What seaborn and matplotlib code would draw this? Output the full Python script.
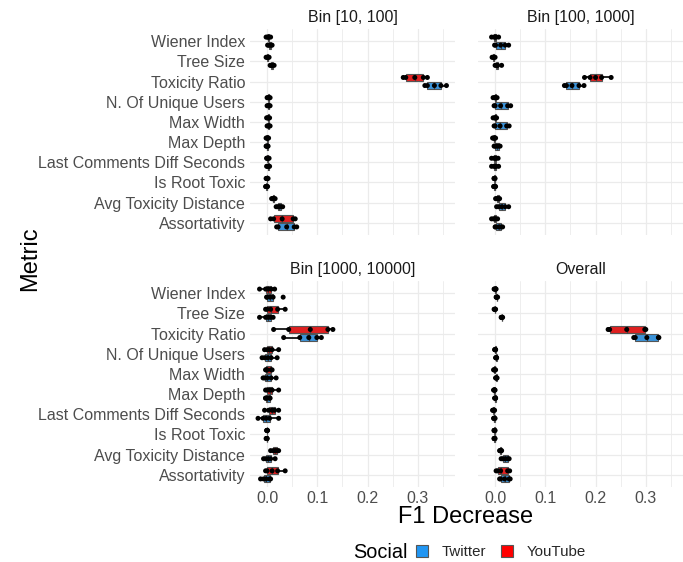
import numpy as np
import pandas as pd
import matplotlib
matplotlib.use("Agg")
import matplotlib.pyplot as plt
import seaborn as sns
from matplotlib.patches import Patch
from matplotlib.ticker import MultipleLocator

sns.set_theme(style="white")
plt.rcParams['font.family'] = ['Liberation Sans', 'DejaVu Sans']

METRICS = ['Wiener Index', 'Tree Size', 'Toxicity Ratio', 'N. Of Unique Users',
           'Max Width', 'Max Depth', 'Last Comments Diff Seconds', 'Is Root Toxic',
           'Avg Toxicity Distance', 'Assortativity']
SOCIALS = ['YouTube', 'Twitter']
LEGEND_ORDER = ['Twitter', 'YouTube']
FACETS = ['Bin [10, 100]', 'Bin [100, 1000]', 'Bin [1000, 10000]', 'Overall']
XTICKS = [0.0, 0.1, 0.2, 0.3]
XTICK_LABELS = ['0.0', '0.1', '0.2', '0.3']
COLORS = {'Twitter': '#2196F3', 'YouTube': '#FF0000'}

# values per metric (rows follow METRICS order)
BIN10_YOUTUBE = [
    [-0.002, 0.001, 0.002, 0.004, 0.007],
    [-0.002, 0.000, 0.001, 0.002, 0.004],
    [0.271, 0.276, 0.294, 0.311, 0.319],
    [0.000, 0.002, 0.003, 0.004, 0.006],
    [-0.001, 0.001, 0.002, 0.003, 0.005],
    [-0.002, 0.000, 0.000, 0.001, 0.003],
    [-0.001, 0.000, 0.001, 0.002, 0.004],
    [-0.002, -0.001, 0.000, 0.000, 0.002],
    [0.009, 0.011, 0.012, 0.014, 0.016],
    [0.007, 0.013, 0.030, 0.052, 0.056],
]
BIN10_TWITTER = [
    [0.001, 0.003, 0.005, 0.008, 0.010],
    [0.006, 0.008, 0.010, 0.011, 0.014],
    [0.314, 0.319, 0.333, 0.346, 0.357],
    [0.000, 0.002, 0.003, 0.004, 0.006],
    [0.000, 0.002, 0.003, 0.004, 0.006],
    [-0.002, -0.001, 0.000, 0.001, 0.002],
    [-0.001, 0.001, 0.002, 0.003, 0.005],
    [-0.003, -0.002, -0.001, 0.000, 0.001],
    [0.018, 0.021, 0.024, 0.027, 0.031],
    [0.019, 0.022, 0.039, 0.054, 0.059],
]
BIN100_YOUTUBE = [
    [-0.007, -0.002, 0.000, 0.002, 0.007],
    [-0.006, -0.004, -0.003, -0.002, 0.000],
    [0.178, 0.189, 0.200, 0.212, 0.231],
    [-0.004, -0.001, 0.000, 0.001, 0.004],
    [-0.004, -0.001, 0.000, 0.001, 0.003],
    [-0.005, -0.003, -0.002, -0.001, 0.001],
    [-0.007, -0.002, 0.000, 0.002, 0.006],
    [-0.002, -0.002, -0.001, -0.001, 0.000],
    [0.001, 0.003, 0.005, 0.007, 0.009],
    [-0.007, -0.003, -0.001, 0.001, 0.005],
]
BIN100_TWITTER = [
    [-0.001, 0.001, 0.011, 0.020, 0.027],
    [0.000, 0.002, 0.004, 0.005, 0.013],
    [0.138, 0.142, 0.153, 0.167, 0.177],
    [-0.002, 0.000, 0.011, 0.025, 0.031],
    [-0.002, 0.000, 0.010, 0.023, 0.028],
    [-0.002, 0.000, 0.003, 0.007, 0.010],
    [-0.007, -0.002, 0.000, 0.002, 0.007],
    [-0.003, -0.002, -0.001, 0.000, 0.001],
    [0.003, 0.007, 0.013, 0.020, 0.027],
    [0.000, 0.001, 0.007, 0.012, 0.015],
]
BIN1000_YOUTUBE = [
    [-0.015, -0.003, 0.002, 0.008, 0.015],
    [-0.003, 0.000, 0.007, 0.021, 0.036],
    [0.013, 0.043, 0.086, 0.121, 0.131],
    [-0.005, 0.000, 0.004, 0.010, 0.023],
    [-0.003, -0.002, 0.000, 0.008, 0.010],
    [-0.003, 0.000, 0.005, 0.010, 0.023],
    [-0.005, 0.003, 0.010, 0.015, 0.023],
    [-0.001, 0.000, 0.000, 0.000, 0.001],
    [0.007, 0.012, 0.016, 0.020, 0.023],
    [-0.003, 0.000, 0.010, 0.021, 0.036],
]
BIN1000_TWITTER = [
    [-0.001, 0.000, 0.006, 0.012, 0.032],
    [-0.015, -0.003, 0.002, 0.007, 0.012],
    [0.033, 0.065, 0.083, 0.099, 0.108],
    [-0.010, -0.005, 0.001, 0.008, 0.020],
    [-0.008, -0.005, 0.000, 0.008, 0.018],
    [-0.003, -0.003, 0.000, 0.005, 0.006],
    [-0.018, -0.008, -0.002, 0.005, 0.023],
    [-0.002, -0.001, -0.001, 0.000, 0.000],
    [-0.007, -0.003, 0.002, 0.007, 0.016],
    [-0.013, -0.007, -0.002, 0.005, 0.007],
]
OVERALL_YOUTUBE = [
    [-0.002, -0.001, 0.000, 0.001, 0.002],
    [-0.002, -0.001, 0.000, 0.000, 0.001],
    [0.225, 0.228, 0.262, 0.298, 0.300],
    [-0.001, 0.000, 0.000, 0.001, 0.001],
    [-0.003, -0.002, -0.001, 0.000, 0.001],
    [-0.003, -0.002, -0.002, -0.001, 0.000],
    [-0.005, -0.004, -0.003, -0.002, -0.001],
    [-0.002, -0.002, -0.001, -0.001, 0.000],
    [0.009, 0.010, 0.011, 0.012, 0.013],
    [0.002, 0.005, 0.011, 0.025, 0.029],
]
OVERALL_TWITTER = [
    [0.002, 0.003, 0.003, 0.004, 0.005],
    [0.012, 0.013, 0.013, 0.014, 0.015],
    [0.276, 0.279, 0.302, 0.325, 0.326],
    [0.001, 0.002, 0.002, 0.003, 0.003],
    [0.001, 0.002, 0.002, 0.003, 0.004],
    [-0.001, 0.000, 0.000, 0.001, 0.001],
    [-0.003, -0.002, -0.002, -0.001, 0.000],
    [-0.002, -0.002, -0.001, -0.001, 0.000],
    [0.012, 0.015, 0.020, 0.025, 0.028],
    [0.009, 0.011, 0.019, 0.028, 0.030],
]

FACET_DATA = {
    'Bin [10, 100]': {'YouTube': BIN10_YOUTUBE, 'Twitter': BIN10_TWITTER},
    'Bin [100, 1000]': {'YouTube': BIN100_YOUTUBE, 'Twitter': BIN100_TWITTER},
    'Bin [1000, 10000]': {'YouTube': BIN1000_YOUTUBE, 'Twitter': BIN1000_TWITTER},
    'Overall': {'YouTube': OVERALL_YOUTUBE, 'Twitter': OVERALL_TWITTER},
}

rows = []
for facet, by_social in FACET_DATA.items():
    for social, table in by_social.items():
        for metric, vals in zip(METRICS, table):
            for v in vals:
                rows.append({'facet': facet, 'social': social, 'metric': metric, 'value': v})
df = pd.DataFrame(rows)

W, H = 683, 562
fig = plt.figure(figsize=(W / 100, H / 100), dpi=100)
fig.patch.set_facecolor('white')

PANEL_W, PANEL_H = 205, 206
positions = {
    'Bin [10, 100]': (250, 29),
    'Bin [100, 1000]': (478, 29),
    'Bin [1000, 10000]': (250, 281),
    'Overall': (478, 281),
}
XLIM = (-0.034, 0.374)

for i, facet in enumerate(FACETS):
    x0, y0 = positions[facet]
    ax = fig.add_axes([x0 / W, 1 - (y0 + PANEL_H) / H, PANEL_W / W, PANEL_H / H])
    ax.set_facecolor('white')
    sub = df[df['facet'] == facet]
    sns.boxplot(data=sub, x='value', y='metric', hue='social', order=METRICS,
                hue_order=SOCIALS, palette=COLORS, width=0.8, gap=0.12,
                linecolor='#555555', linewidth=0.8, showfliers=False,
                showcaps=False, whiskerprops={'color': 'black', 'linewidth': 1.2},
                medianprops={'color': '#444444', 'linewidth': 0.9},
                legend=False, ax=ax, zorder=2)
    sns.stripplot(data=sub, x='value', y='metric', hue='social', order=METRICS,
                  hue_order=SOCIALS, palette={'YouTube': 'black', 'Twitter': 'black'},
                  dodge=True, jitter=False, size=3.6, linewidth=0, legend=False,
                  ax=ax, zorder=3)
    ax.set_xlim(*XLIM)
    ax.set_ylim(len(METRICS) - 0.4, -0.6)
    ax.set_xticks(XTICKS)
    ax.set_xticklabels(XTICK_LABELS)
    ax.xaxis.set_minor_locator(MultipleLocator(0.05))
    ax.grid(True, which='major', color='#EBEBEB', linewidth=0.9)
    ax.grid(True, which='minor', axis='x', color='#EBEBEB', linewidth=0.6)
    ax.set_axisbelow(True)
    for s in ax.spines.values():
        s.set_visible(False)
    ax.tick_params(which='both', length=0)
    ax.tick_params(axis='y', labelsize=11.5, labelcolor='#4D4D4D', pad=3.5)
    ax.tick_params(axis='x', labelsize=11.5, labelcolor='#4D4D4D', pad=3)
    ax.set_xlabel('')
    ax.set_ylabel('')
    if i % 2 == 1:
        ax.tick_params(axis='y', labelleft=False)
    if i < 2:
        ax.tick_params(axis='x', labelbottom=False)
    ax.set_title(facet, fontsize=11.5, color='#1A1A1A', pad=5)

fig.text(466 / W, 1 - 517 / H, 'F1 Decrease', ha='center', va='center', fontsize=17, color='black')
fig.text(30 / W, 1 - 259 / H, 'Metric', ha='center', va='center', rotation=90, fontsize=17, color='black')

fig.text(353 / W, 1 - 552 / H, 'Social', ha='left', va='center', fontsize=14.3, color='black')
handles = [Patch(facecolor=COLORS[s], edgecolor='#555555', linewidth=0.8) for s in LEGEND_ORDER]
fig.legend(handles, LEGEND_ORDER, loc='center left', bbox_to_anchor=(416 / W, 1 - 552 / H),
           ncol=2, frameon=False, fontsize=10.8, handlelength=0.8, handleheight=0.8,
           handletextpad=0.9, columnspacing=1.0, borderpad=0, borderaxespad=0)

fig.savefig('out.png', dpi=100, facecolor='white')
